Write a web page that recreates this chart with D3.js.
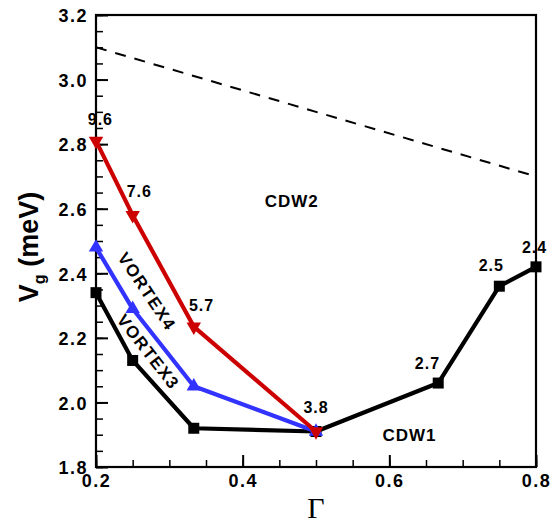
<!DOCTYPE html>
<html lang="en">
<head>
    <meta charset="utf-8">
    <title>Vg vs Gamma</title>
    <script src="https://cdn.jsdelivr.net/npm/d3@7"></script>
    <style>
        body { margin: 0; background: #fff; }
        text { font-family: "Liberation Sans", Arial, sans-serif; font-weight: bold; fill: #000; }
    </style>
</head>
<body>
<script>
    // chart data
    var gammaCdw1 = [0.2, 0.25, 1 / 3, 0.5, 2 / 3, 0.75, 0.8];
    var vgCdw1 = [2.34, 2.13, 1.92, 1.91, 2.06, 2.36, 2.42];

    var gammaV3 = [0.2, 0.25, 1 / 3, 0.5];
    var vgV3 = [2.48, 2.29, 2.05, 1.91];

    var gammaV4 = [0.2, 0.25, 1 / 3, 0.5];
    var vgV4 = [2.81, 2.58, 2.235, 1.91];

    var gammaBound = [0.2, 0.8];
    var vgBound = [3.1, 2.7];

    var xTicks = [0.2, 0.4, 0.6, 0.8];
    var yTicks = [1.8, 2.0, 2.2, 2.4, 2.6, 2.8, 3.0, 3.2];

    // point labels / region names (data coords)
    var noteText = ["9.6", "7.6", "5.7", "3.8", "2.7", "2.5", "2.4", "CDW1", "CDW2"];
    var noteGamma = [0.206, 0.259, 0.344, 0.5, 0.652, 0.739, 0.798, 0.6275, 0.467];
    var noteVg = [2.859, 2.635, 2.284, 1.966, 2.1035, 2.408, 2.464, 1.8815, 2.606];

    var w = 551, h = 523;
    var pLeft = 96, pRight = 536, pTop = 15, pBottom = 467;

    var x = d3.scaleLinear().domain([0.2, 0.8]).range([pLeft, pRight]);
    var y = d3.scaleLinear().domain([1.8, 3.2]).range([pBottom, pTop]);

    var svg = d3.select("body").append("svg")
        .attr("width", w).attr("height", h);

    // minor ticks every 0.05
    var minorX = d3.range(0.2, 0.8001, 0.05);
    var minorY = d3.range(1.8, 3.2001, 0.05);

    svg.append("g")
        .attr("transform", "translate(0," + pBottom + ")")
        .call(d3.axisBottom(x).tickValues(minorX).tickSize(-7).tickFormat(""))
        .call(g => g.select(".domain").remove())
        .selectAll("line").attr("stroke-width", 1.5);

    svg.append("g")
        .attr("transform", "translate(" + pLeft + ",0)")
        .call(d3.axisLeft(y).tickValues(minorY).tickSize(-7).tickFormat(""))
        .call(g => g.select(".domain").remove())
        .selectAll("line").attr("stroke-width", 1.5);

    var xAxis = svg.append("g")
        .attr("transform", "translate(0," + pBottom + ")")
        .call(d3.axisBottom(x).tickValues(xTicks).tickSize(-12).tickPadding(7).tickFormat(d3.format(".1f")));
    xAxis.select(".domain").remove();
    xAxis.attr("font-family", null).attr("font-size", null);
    xAxis.selectAll("line").attr("stroke-width", 2);
    xAxis.selectAll("text")
        .style("font-size", "18px").style("letter-spacing", "1.5px");

    var yAxis = svg.append("g")
        .attr("transform", "translate(" + pLeft + ",0)")
        .call(d3.axisLeft(y).tickValues(yTicks).tickSize(-12).tickPadding(8).tickFormat(d3.format(".1f")));
    yAxis.select(".domain").remove();
    yAxis.attr("font-family", null).attr("font-size", null);
    yAxis.selectAll("line").attr("stroke-width", 2);
    yAxis.selectAll("text")
        .style("font-size", "18px").style("letter-spacing", "1.5px")
        .attr("dy", "0.38em");

    // frame
    svg.append("rect")
        .attr("x", pLeft).attr("y", pTop)
        .attr("width", pRight - pLeft).attr("height", pBottom - pTop)
        .attr("fill", "none").attr("stroke", "#000").attr("stroke-width", 2.2);

    var line = d3.line().x(d => x(d[0])).y(d => y(d[1]));

    // dashed boundary
    svg.append("path")
        .datum(d3.zip(gammaBound, vgBound))
        .attr("d", line)
        .attr("fill", "none").attr("stroke", "#000")
        .attr("stroke-width", 2).attr("stroke-dasharray", "11,9");

    function series(gx, gy, color, sym, rot, size) {
        var pts = d3.zip(gx, gy);
        svg.append("path")
            .datum(pts)
            .attr("d", line)
            .attr("fill", "none").attr("stroke", color)
            .attr("stroke-width", 4.2).attr("stroke-linejoin", "round");
        svg.selectAll(null)
            .data(pts)
            .enter()
            .append("path")
            .attr("d", d3.symbol().type(sym).size(size))
            .attr("transform", d => "translate(" + x(d[0]) + "," + y(d[1]) + ") rotate(" + rot + ")")
            .attr("fill", color);
    }

    series(gammaCdw1, vgCdw1, "#000", d3.symbolSquare, 0, 121);
    series(gammaV3, vgV3, "#3333ff", d3.symbolTriangle, 0, 90);
    series(gammaV4, vgV4, "#cc0000", d3.symbolTriangle, 180, 90);

    // labels
    svg.selectAll(null)
        .data(d3.range(noteText.length))
        .enter()
        .append("text")
        .attr("x", i => x(noteGamma[i]))
        .attr("y", i => y(noteVg[i]))
        .attr("text-anchor", "middle")
        .style("font-size", i => noteText[i].length > 3 ? "17px" : "16px")
        .style("letter-spacing", "1px")
        .text(i => noteText[i]);

    svg.append("text")
        .attr("transform", "translate(" + x(0.2691) + "," + y(2.343) + ") rotate(56)")
        .attr("text-anchor", "middle").attr("dominant-baseline", "central")
        .style("font-size", "17px").style("letter-spacing", "1.5px")
        .text("VORTEX4");

    svg.append("text")
        .attr("transform", "translate(" + x(0.2709) + "," + y(2.156) + ") rotate(52)")
        .attr("text-anchor", "middle").attr("dominant-baseline", "central")
        .style("font-size", "17px").style("letter-spacing", "1.5px")
        .text("VORTEX3");

    // axis titles
    var yt = svg.append("text")
        .attr("transform", "translate(38,247) rotate(-90)")
        .attr("text-anchor", "middle")
        .style("font-size", "27px");
    yt.append("tspan").text("V");
    yt.append("tspan").attr("dy", 7).style("font-size", "16px").text("g");
    yt.append("tspan").attr("dy", -7).text(" (meV)");

    svg.append("text")
        .attr("x", 316).attr("y", 518)
        .attr("text-anchor", "middle")
        .style("font-family", "'Liberation Serif', 'Times New Roman', serif")
        .style("font-weight", "normal")
        .style("font-size", "30px")
        .text("Γ");
</script>
</body>
</html>
